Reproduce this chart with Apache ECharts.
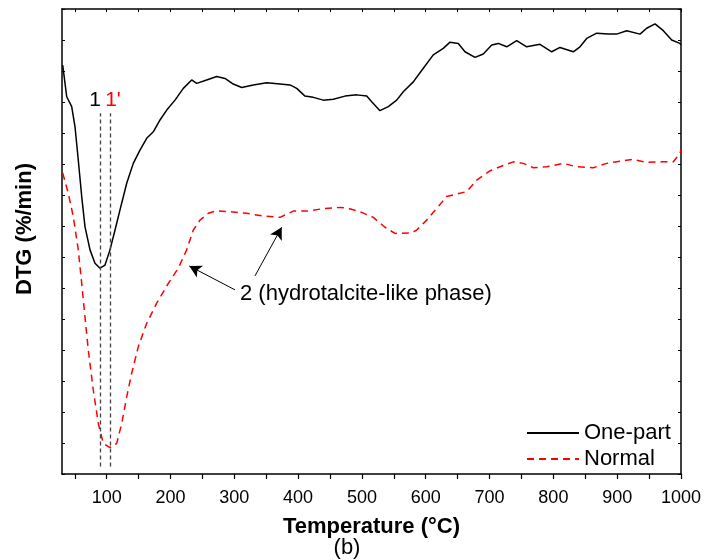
<!DOCTYPE html>
<html>
<head>
<meta charset="utf-8">
<script src="https://cdn.jsdelivr.net/npm/echarts@6/dist/echarts.min.js"></script>
<style>
html,body{margin:0;padding:0;background:#fff;}
#c{width:703px;height:560px;}
</style>
</head>
<body>
<div id="c"></div>
<script>
// ---- data (temperature in °C, DTG in arbitrary plot units) ----
const onePartT = [31.1,37.4,45.2,50.4,55.5,60.9,66.0,73.9,81.7,89.5,97.4,105.2,113.1,120.9,131.4,141.7,152.2,162.7,173.1,183.6,194.1,207.1,220.1,233.2,241.1,256.7,272.4,285.4,298.4,311.6,329.8,350.8,371.6,387.3,397.8,410.8,423.8,439.5,455.1,473.5,491.8,507.5,515.3,528.3,541.3,554.5,564.8,580.5,596.2,611.8,627.5,638.0,651.0,661.5,677.2,690.2,703.4,713.7,726.9,742.5,758.2,779.0,797.4,810.4,831.2,841.7,852.2,867.9,886.1,899.2,914.9,935.8,946.2,959.3,972.3,985.4,998.4,1000];
const onePartV = [13.19,12.17,11.85,11.20,10.13,8.95,7.98,7.23,6.80,6.64,6.74,7.23,7.87,8.52,9.38,10.02,10.45,10.83,11.04,11.42,11.74,12.06,12.44,12.71,12.60,12.71,12.82,12.76,12.58,12.47,12.55,12.62,12.58,12.55,12.44,12.19,12.15,12.06,12.09,12.19,12.23,12.19,12.01,11.72,11.85,12.06,12.33,12.65,13.09,13.52,13.73,13.93,13.89,13.62,13.44,13.55,13.84,13.89,13.78,13.98,13.78,13.86,13.62,13.76,13.62,13.78,14.05,14.22,14.19,14.19,14.30,14.19,14.38,14.52,14.30,14.00,13.89,13.85];
const normalT = [31.1,39.9,47.7,55.5,60.9,66.0,71.2,79.0,86.9,94.7,105.2,115.7,123.6,131.4,139.2,149.6,162.7,178.4,196.6,212.2,225.4,235.8,246.2,259.3,272.4,293.3,319.4,345.4,371.6,392.5,413.5,439.5,465.6,478.6,497.0,517.8,536.1,551.8,578.0,585.8,601.5,617.2,632.8,648.5,664.2,679.8,700.7,716.4,737.2,752.9,768.6,789.5,815.6,836.5,862.6,883.6,909.6,925.2,946.2,969.8,988.0,998.4,1000];
const normalV = [9.71,9.05,8.30,7.23,6.15,5.07,4.00,2.71,1.63,0.99,0.85,0.99,1.63,2.49,3.25,4.11,4.86,5.51,6.15,6.64,7.23,7.87,8.19,8.41,8.49,8.46,8.41,8.32,8.28,8.48,8.48,8.56,8.60,8.57,8.46,8.28,7.96,7.76,7.78,7.87,8.19,8.57,8.95,9.03,9.11,9.48,9.78,9.91,10.07,10.02,9.88,9.91,10.02,9.91,9.88,10.02,10.11,10.15,10.05,10.07,10.07,10.35,10.45];
const peakT = [90.6, 106.3];          // peaks 1 and 1'
const peakLineV = [0.24, 11.64];     // vertical extent of peak marker lines
const xLabelValues = [100,200,300,400,500,600,700,800,900,1000];
const xTickValues = [50,100,150,200,250,300,350,400,450,500,550,600,650,700,750,800,850,900,950,1000];
const seriesNames = ['One-part', 'Normal'];
// arrows for annotation "2": [startT, startV, tipT, tipV]
const arrow1 = [301.1, 5.94, 229.5, 6.71];
const arrow2 = [332.4, 6.39, 374.3, 7.96];

const zip = (a, b) => a.map((t, i) => [t, b[i]]);
const FONT = '"Liberation Sans", Arial, sans-serif';

const chart = echarts.init(document.getElementById('c'), null, {renderer: 'canvas'});
const axisLineStyle = {color: '#000', width: 1.5};

const option = {
  animation: false,
  backgroundColor: '#fff',
  grid: {left: 62, right: 22, top: 9, bottom: 86, containLabel: false, outerBoundsMode: 'none'},
  legend: {
    orient: 'vertical',
    left: 521, top: 417,
    itemWidth: 52, itemHeight: 14, itemGap: 4,
    data: seriesNames,
    itemStyle: {opacity: 0},
    textStyle: {fontFamily: FONT, fontSize: 22, color: '#000', lineHeight: 22, padding: [0,0,0,0]}
  },
  xAxis: [{
    type: 'value', min: 30, max: 1000, position: 'bottom',
    axisLine: {show: true, onZero: false, lineStyle: axisLineStyle},
    axisTick: {show: true, inside: false, length: 5, customValues: xTickValues, lineStyle: {color: '#000', width: 1.2}},
    axisLabel: {customValues: xLabelValues, formatter: v => String(v), fontFamily: FONT, fontSize: 18, color: '#000', margin: 15},
    splitLine: {show: false},
    name: 'Temperature (°C)', nameLocation: 'middle', nameGap: 42,
    nameTextStyle: {fontFamily: FONT, fontSize: 22, fontWeight: 'bold', color: '#000'}
  }, {
    type: 'value', min: 30, max: 1000, position: 'top',
    axisLine: {show: true, onZero: false, lineStyle: axisLineStyle},
    axisTick: {show: true, inside: true, length: 3, customValues: xTickValues, lineStyle: {color: '#000', width: 1}},
    axisLabel: {show: false},
    splitLine: {show: false}
  }],
  yAxis: [{
    type: 'value', min: 0, max: 15, interval: 1, position: 'left',
    axisLine: {show: true, onZero: false, lineStyle: axisLineStyle},
    axisTick: {show: true, inside: true, length: 3, lineStyle: {color: '#000', width: 1}},
    axisLabel: {show: false},
    splitLine: {show: false}
  }, {
    type: 'value', min: 0, max: 15, interval: 1, position: 'right',
    axisLine: {show: true, onZero: false, lineStyle: axisLineStyle},
    axisTick: {show: true, inside: true, length: 3, lineStyle: {color: '#000', width: 1}},
    axisLabel: {show: false},
    splitLine: {show: false}
  }],
  series: [{
    name: seriesNames[0], type: 'line', data: zip(onePartT, onePartV),
    symbol: 'none',
    lineStyle: {color: '#000', width: 1.5}, itemStyle: {color: '#000'},
    z: 3,
    markLine: {
      silent: true, symbol: ['none', 'none'], animation: false,
      label: {show: false},
      lineStyle: {color: '#444', width: 1.3, type: [4, 3]},
      data: peakT.map(t => [{coord: [t, peakLineV[0]]}, {coord: [t, peakLineV[1]]}])
    }
  }, {
    name: seriesNames[1], type: 'line', data: zip(normalT, normalV),
    symbol: 'none',
    lineStyle: {color: '#ff0000', width: 1.5, type: [7, 5]}, itemStyle: {color: '#ff0000'},
    z: 2,
    markLine: {
      silent: true, symbol: ['none', 'arrow'], symbolSize: [10, 12], animation: false,
      label: {show: false},
      lineStyle: {color: '#000', width: 1, type: 'solid'},
      data: [arrow1, arrow2].map(a => [{coord: [a[0], a[1]]}, {coord: [a[2], a[3]]}])
    }
  }],
  graphic: [
    {type: 'text', x: 25, y: 229, rotation: Math.PI / 2,
     style: {text: 'DTG (%/min)', font: 'bold 22px ' + FONT, fill: '#000', align: 'center', verticalAlign: 'middle'}},
    {type: 'text', x: 95, y: 100,
     style: {text: '1', font: '21px ' + FONT, fill: '#000', align: 'center', verticalAlign: 'middle'}},
    {type: 'text', x: 113, y: 100,
     style: {text: "1'", font: '21px ' + FONT, fill: '#ff0000', align: 'center', verticalAlign: 'middle'}},
    {type: 'text', x: 240, y: 294,
     style: {text: '2 (hydrotalcite-like phase)', font: '22px ' + FONT, fill: '#000', align: 'left', verticalAlign: 'middle'}},
    {type: 'text', x: 347, y: 548,
     style: {text: '(b)', font: '22px ' + FONT, fill: '#000', align: 'center', verticalAlign: 'middle'}}
  ]
};
chart.setOption(option);
</script>
</body>
</html>
